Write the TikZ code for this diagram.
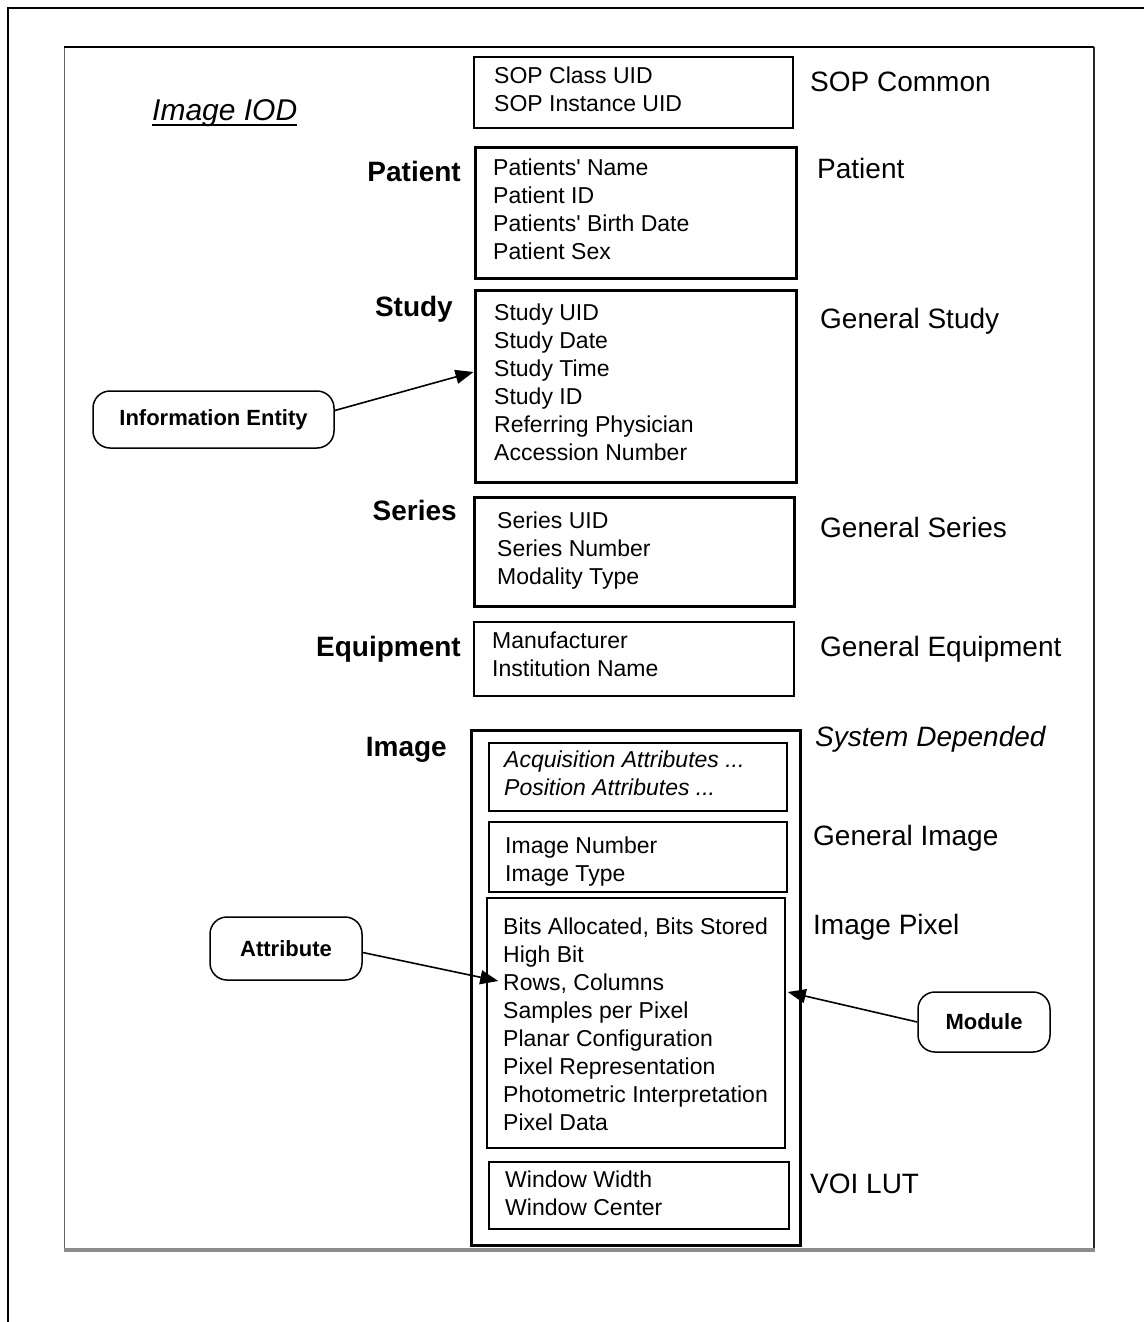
\documentclass[tikz,border=0pt]{standalone}
\usepackage{fontspec}
\setmainfont{Liberation Sans}
\usetikzlibrary{arrows.meta,fit,calc}
\begin{document}
\begin{tikzpicture}[x=1pt,y=-1pt,
  thickbox/.style={draw, line width=3pt, inner sep=0pt},
  midbox/.style={draw, line width=2.2pt, inner sep=0pt},
  thinbox/.style={draw, line width=1.5pt, inner sep=0pt},
  txt/.style={anchor=north west, inner sep=0pt, align=left, font=\fontsize{23}{28}\selectfont},
  lefttitle/.style={anchor=base east, inner sep=0pt, font=\fontsize{28}{32}\selectfont\bfseries},
  righttitle/.style={anchor=base west, inner sep=0pt, font=\fontsize{28}{32}\selectfont},
  callout/.style={draw, line width=1.5pt, rounded corners=17pt, inner sep=0pt, font=\fontsize{22}{26}\selectfont\bfseries},
  pointer/.style={line width=1.6pt, -{Triangle[length=18pt,width=14pt]}}
]
\useasboundingbox (0,0) rectangle (1144,1322);
\fill[white] (0,0) rectangle (1144,1322);
% outer frame
\draw[line width=2pt] (8,1322) -- (8,8) -- (1144,8);
% inner frame
\draw[line width=1pt, black!60] (64,1250) -- (64,47);
\draw[line width=1.2pt] (64,47) -- (1094,47);
\draw[line width=2pt, black!85] (1094,47) -- (1094,1250);
\draw[line width=3.5pt, black!45] (64,1250) -- (1095,1250);

% title
\node[anchor=base west, inner sep=0pt, font=\fontsize{30}{34}\selectfont\itshape] (iod) at (152,120) {Image IOD};
\draw[line width=2.6pt] ([yshift=-5pt]iod.base west) -- ([yshift=-5pt]iod.base east);

% boxes
\node[thinbox, fit={(474,57)(793,128)}] (sopbox) {};
\node[thickbox, fit={(475,147)(796,278)}] (patbox) {};
\node[thickbox, fit={(475,290)(796,482)}] (studybox) {};
\node[thickbox, fit={(474,497)(794,606)}] (serbox) {};
\node[midbox, fit={(474,622)(794,696)}] (eqbox) {};
\node[thickbox, fit={(471,730)(800,1245)}] (imgbox) {};
\node[thinbox, fit={(489,743)(787,811)}] (sysbox) {};
\node[thinbox, fit={(489,822)(787,892)}] (genimgbox) {};
\node[thinbox, fit={(487,898)(785,1148)}] (pixbox) {};
\node[thinbox, fit={(489,1162)(789,1229)}] (voibox) {};

% box texts
\node[txt] (soptxt) at (494,67) {SOP Class UID\\SOP Instance UID};
\node[txt] (pattxt) at (493,159) {Patients\textquotesingle{} Name\\Patient ID\\Patients\textquotesingle{} Birth Date\\Patient Sex};
\node[txt] (studytxt) at (494,304) {Study UID\\Study Date\\Study Time\\Study ID\\Referring Physician\\Accession Number};
\node[txt] (sertxt) at (497,512) {Series UID\\Series Number\\Modality Type};
\node[txt] (eqtxt) at (492,632) {Manufacturer\\Institution Name};
\node[txt, font=\fontsize{23}{28}\selectfont\itshape] (systxt) at (504,751) {Acquisition Attributes ...\\Position Attributes ...};
\node[txt] (genimgtxt) at (505,837) {Image Number\\Image Type};
\node[txt] (pixtxt) at (503,918) {Bits Allocated, Bits Stored\\High Bit\\Rows, Columns\\Samples per Pixel\\Planar Configuration\\Pixel Representation\\Photometric Interpretation\\Pixel Data};
\node[txt] (voitxt) at (505,1171) {Window Width\\Window Center};

% left titles
\node[lefttitle] (lpat) at (461,181) {Patient};
\node[lefttitle] (lstudy) at (453,316) {Study};
\node[lefttitle] (lser) at (457,520) {Series};
\node[lefttitle] (leq) at (461,656) {Equipment};
\node[lefttitle] (limg) at (447,756) {Image};

% right titles
\node[righttitle] (rsop) at (810,91) {SOP Common};
\node[righttitle] (rpat) at (817,178) {Patient};
\node[righttitle] (rstudy) at (820,328) {General Study};
\node[righttitle] (rser) at (820,537) {General Series};
\node[righttitle] (req) at (820,656) {General Equipment};
\node[righttitle, font=\fontsize{28}{32}\selectfont\itshape] (rsys) at (815,746) {System Depended};
\node[righttitle] (rgenimg) at (813,845) {General Image};
\node[righttitle] (rpix) at (813,934) {Image Pixel};
\node[righttitle] (rvoi) at (810,1193) {VOI LUT};

% callouts
\node[callout, minimum width=241pt, minimum height=57pt] (ie) at (213.5,419.5) {Information Entity};
\node[callout, minimum width=152pt, minimum height=63pt] (attr) at (286,948.5) {Attribute};
\node[callout, minimum width=132pt, minimum height=60pt] (mod) at (984,1022) {Module};

% pointers
\draw[pointer] ([yshift=9pt]ie.east) -- ([yshift=14pt]studybox.west);
\draw[pointer] ([yshift=-4pt]attr.east) -- ([xshift=12pt,yshift=42pt]pixbox.west);
\draw[pointer] (mod.west) -- ([xshift=2pt,yshift=31pt]pixbox.east);
\end{tikzpicture}
\end{document}
